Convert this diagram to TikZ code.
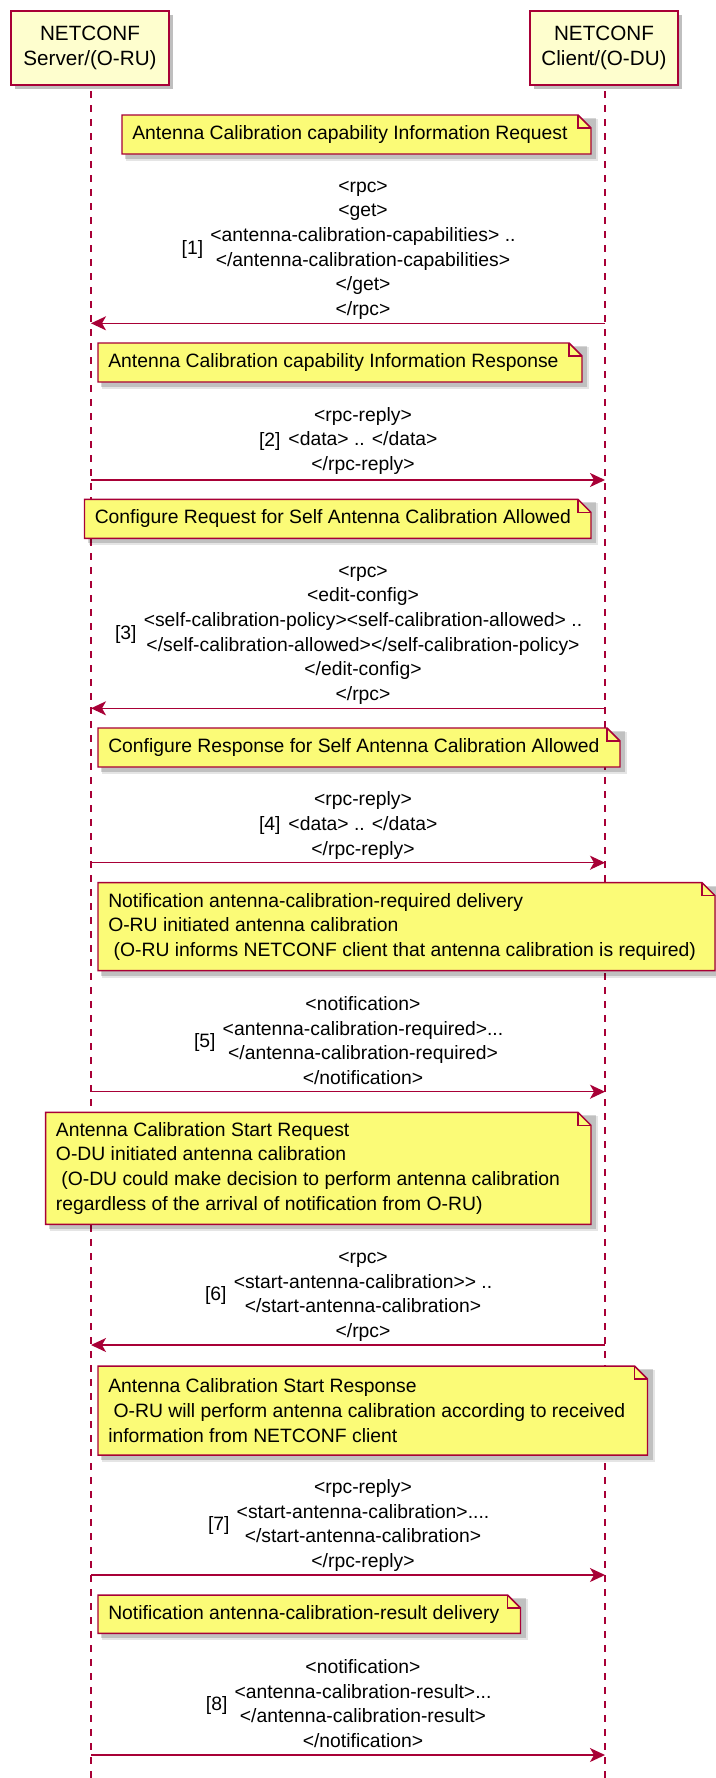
\documentclass[tikz,border=0pt]{standalone}
\usepackage{fontspec}
\setmainfont{Liberation Sans}
\usetikzlibrary{arrows.meta,shadows}
\definecolor{pborder}{RGB}{168,0,54}
\definecolor{pfill}{HTML}{FEFECE}
\definecolor{nfill}{HTML}{FBFB77}
\tikzset{
  actorbox/.style={draw=pborder, fill=pfill, line width=1.4pt, inner sep=0pt,
    minimum height=55.7pt, align=center,
    font=\fontsize{15.5}{18.4}\selectfont,
    drop shadow={shadow xshift=3pt, shadow yshift=-3pt, fill=black, opacity=0.25}},
  lifeline/.style={draw=pborder, line width=0.9pt, dash pattern=on 5.25pt off 5.25pt},
  msgarrow/.style={draw=pborder, line width=1.1pt,
    -{Stealth[length=11.25pt, width=10.5pt, inset=3pt]}},
  msgtext/.style={align=center, inner sep=0pt, font=\fontsize{14.5}{18.5}\selectfont},
  numtext/.style={inner sep=0pt, anchor=east, font=\fontsize{14.5}{18.5}\selectfont},
  notebdr/.style={draw=pborder, fill=nfill, line width=1.1pt, line join=miter},
  notetext/.style={align=left, inner sep=0pt, anchor=west, font=\fontsize{14.5}{18.5}\selectfont},
}
\newcommand\notebox[6]{%
  \fill[black, opacity=0.16] (#2+3,#3+3) rectangle (#4+5,#5+5);
  \fill[black, opacity=0.10] (#2+4,#3+4) rectangle (#4+7,#5+7);
  \draw[notebdr] (#2,#3) -- (#4-13,#3) -- (#4,#3+13) -- (#4,#5) -- (#2,#5) -- cycle;
  \draw[notebdr, fill=none] (#4-13,#3) -- (#4-13,#3+13) -- (#4,#3+13);
  \node[notetext] (#1) at (#2+10,{(#3+#5)/2}) {#6};}
\newcommand\lsp{\hspace*{0.278em}}
\begin{document}
\begin{tikzpicture}[x=0.75pt, y=-0.75pt]
\useasboundingbox (0,0) rectangle (716,1778);
% participants
\node[actorbox, minimum width=118.5pt] (srv) at (90,48) {NETCONF\\Server/(O-RU)};
\node[actorbox, minimum width=111pt] (cli) at (604,48) {NETCONF\\Client/(O-DU)};
\coordinate (srvL) at (91,0);
\coordinate (cliL) at (605,0);
\coordinate (bottom) at (0,1778);
\draw[lifeline] ([yshift=-4pt]srvL |- srv.south) -- (srvL |- bottom);
\draw[lifeline] ([yshift=-4pt]cliL |- cli.south) -- (cliL |- bottom);

% 1
\notebox{n1}{122}{115}{591}{154}{Antenna Calibration capability Information Request}
\node[msgtext] (t1) at (363,249) {\strut<rpc>\\<get>\\<antenna-calibration-capabilities> ..\\</antenna-calibration-capabilities>\\</get>\\</rpc>\strut};
\node[numtext] (k1) at ([xshift=-5pt]t1.west) {[1]};
\coordinate (y1) at (0,323.3);
\draw[msgarrow] (cliL |- y1) -- (srvL |- y1);

% 2
\notebox{n2}{98}{343}{582}{382}{Antenna Calibration capability Information Response}
\node[msgtext] (t2) at (363,441) {\strut<rpc-reply>\\<data> .. </data>\\</rpc-reply>\strut};
\node[numtext] (k2) at ([xshift=-5.5pt]t2.west) {[2]};
\coordinate (y2) at (0,480);
\draw[msgarrow] (srvL |- y2) -- (cliL |- y2);

% 3
\notebox{n3}{84.5}{499.3}{591}{538.3}{Configure Request for Self Antenna Calibration Allowed}
\node[msgtext] (t3) at (363,634) {\strut<rpc>\\<edit-config>\\<self-calibration-policy><self-calibration-allowed> ..\\</self-calibration-allowed></self-calibration-policy>\\</edit-config>\\</rpc>\strut};
\node[numtext] (k3) at ([xshift=-5pt]t3.west) {[3]};
\coordinate (y3) at (0,708.3);
\draw[msgarrow] (cliL |- y3) -- (srvL |- y3);

% 4
\notebox{n4}{98}{728}{620}{767}{Configure Response for Self Antenna Calibration Allowed}
\node[msgtext] (t4) at (363,825.5) {\strut<rpc-reply>\\<data> .. </data>\\</rpc-reply>\strut};
\node[numtext] (k4) at ([xshift=-5.5pt]t4.west) {[4]};
\coordinate (y4) at (0,862.7);
\draw[msgarrow] (srvL |- y4) -- (cliL |- y4);

% 5
\notebox{n5}{98}{882.7}{715}{970.7}{Notification antenna-calibration-required delivery\\O-RU initiated antenna calibration\\\lsp(O-RU informs NETCONF client that antenna calibration is required)}
\node[msgtext] (t5) at (363,1042.5) {\strut<notification>\\<antenna-calibration-required>...\\</antenna-calibration-required>\\</notification>\strut};
\node[numtext] (k5) at ([xshift=-5pt]t5.west) {[5]};
\coordinate (y5) at (0,1091.7);
\draw[msgarrow] (srvL |- y5) -- (cliL |- y5);

% 6
\notebox{n6}{45.7}{1112.3}{591}{1224.3}{Antenna Calibration Start Request\\O-DU initiated antenna calibration\\\lsp(O-DU could make decision to perform antenna calibration\\regardless of the arrival of notification from O-RU)}
\node[msgtext] (t6) at (363,1295.5) {\strut<rpc>\\<start-antenna-calibration>{}> ..\\</start-antenna-calibration>\\</rpc>\strut};
\node[numtext] (k6) at ([xshift=-5pt]t6.west) {[6]};
\coordinate (y6) at (0,1345);
\draw[msgarrow] (cliL |- y6) -- (srvL |- y6);

% 7
\notebox{n7}{98}{1366}{647.5}{1455}{Antenna Calibration Start Response\\\lsp O-RU will perform antenna calibration according to received\\information from NETCONF client}
\node[msgtext] (t7) at (363,1525.5) {\strut<rpc-reply>\\<start-antenna-calibration>....\\</start-antenna-calibration>\\</rpc-reply>\strut};
\node[numtext] (k7) at ([xshift=-5pt]t7.west) {[7]};
\coordinate (y7) at (0,1575);
\draw[msgarrow] (srvL |- y7) -- (cliL |- y7);

% 8
\notebox{n8}{98}{1595}{520.5}{1633.3}{Notification antenna-calibration-result delivery}
\node[msgtext] (t8) at (363,1705.5) {\strut<notification>\\<antenna-calibration-result>...\\</antenna-calibration-result>\\</notification>\strut};
\node[numtext] (k8) at ([xshift=-5pt]t8.west) {[8]};
\coordinate (y8) at (0,1755);
\draw[msgarrow] (srvL |- y8) -- (cliL |- y8);
\end{tikzpicture}
\end{document}
